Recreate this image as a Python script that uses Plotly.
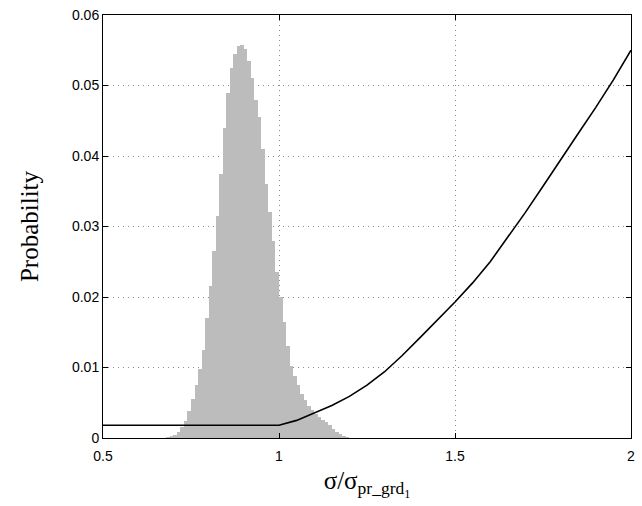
import plotly.graph_objects as go

# Histogram (bin centres, width 0.01) - probability per bin
hist_x = [0.685, 0.695, 0.705, 0.715, 0.725, 0.735, 0.745, 0.755, 0.765, 0.775,
          0.785, 0.795, 0.805, 0.815, 0.825, 0.835, 0.845, 0.855, 0.865, 0.875,
          0.885, 0.895, 0.905, 0.915, 0.925, 0.935, 0.945, 0.955, 0.965, 0.975,
          0.985, 0.995, 1.005, 1.015, 1.025, 1.035, 1.045, 1.055, 1.065, 1.075,
          1.085, 1.095, 1.105, 1.115, 1.125, 1.135, 1.145, 1.155, 1.165, 1.175,
          1.185, 1.195]
hist_p = [0.0001, 0.0002, 0.0004, 0.0008, 0.0015, 0.0024, 0.0038, 0.0055, 0.0075, 0.0098,
          0.0125, 0.0170, 0.0215, 0.0265, 0.0315, 0.0375, 0.0440, 0.0490, 0.0525, 0.0545,
          0.0556, 0.0558, 0.0552, 0.0535, 0.0510, 0.0480, 0.0455, 0.0410, 0.0360, 0.0320,
          0.0280, 0.0235, 0.0200, 0.0165, 0.0130, 0.0102, 0.0088, 0.0075, 0.0062, 0.0054,
          0.0046, 0.0040, 0.0034, 0.0030, 0.0026, 0.0022, 0.0018, 0.0013, 0.0009, 0.0006,
          0.0003, 0.0001]

# Curve
curve_x = [0.5, 1.0, 1.05, 1.1, 1.15, 1.2, 1.25, 1.3, 1.35, 1.4, 1.45, 1.5,
           1.55, 1.6, 1.65, 1.7, 1.75, 1.8, 1.85, 1.9, 1.95, 2.0]
curve_y = [0.0018, 0.0018, 0.0025, 0.0035, 0.0046, 0.0059, 0.0075, 0.0094, 0.0117, 0.0142,
           0.0167, 0.0193, 0.0220, 0.0250, 0.0285, 0.0320, 0.0357, 0.0395, 0.0432, 0.0469,
           0.0508, 0.0550]

x_ticks = [0.5, 1, 1.5, 2]
y_ticks = [0, 0.01, 0.02, 0.03, 0.04, 0.05, 0.06]

fig = go.Figure()
fig.add_trace(go.Bar(x=hist_x, y=hist_p, width=0.01,
                     marker=dict(color="#bcbcbc", line=dict(width=0)),
                     showlegend=False))
fig.add_trace(go.Scatter(x=curve_x, y=curve_y, mode="lines",
                         line=dict(color="black", width=1.6), showlegend=False))

axis_common = dict(showline=True, linecolor="black", linewidth=1, mirror="ticks",
                   ticks="inside", ticklen=5, tickcolor="black",
                   showgrid=True, gridcolor="#8a8a8a", griddash="1px,4px", gridwidth=1,
                   zeroline=False,
                   tickfont=dict(family="Liberation Sans, Arial", size=14, color="black"))

fig.update_layout(
    width=642, height=506,
    margin=dict(l=103, r=7, t=15, b=68),
    plot_bgcolor="white", paper_bgcolor="white",
    bargap=0,
    xaxis=dict(range=[0.5, 2], tickvals=x_ticks, ticktext=["0.5", "1", "1.5", "2"],
               ticklabelstandoff=5,
               title=dict(text="σ/σ<sub>pr_grd<sub>1</sub></sub>",
                          font=dict(family="Liberation Serif, Times New Roman", size=25, color="black"),
                          standoff=8),
               **axis_common),
    yaxis=dict(range=[0, 0.06], tickvals=y_ticks,
               ticktext=["0", "0.01", "0.02", "0.03", "0.04", "0.05", "0.06"],
               title=dict(text="Probability",
                          font=dict(family="Liberation Serif, Times New Roman", size=25, color="black"),
                          standoff=26),
               **axis_common),
)

fig.write_html("out.html")
